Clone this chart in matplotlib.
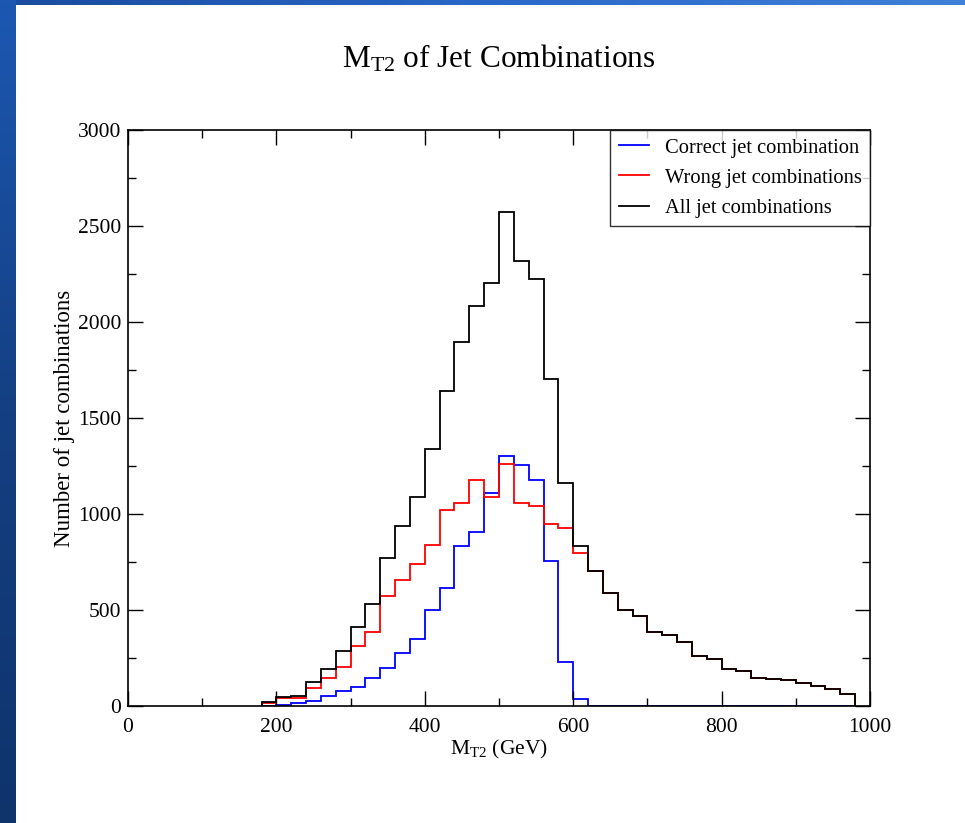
import numpy as np
import matplotlib
matplotlib.use("Agg")
import matplotlib.pyplot as plt

plt.rcParams['font.family'] = ['Liberation Serif', 'DejaVu Serif']
plt.rcParams['mathtext.default'] = 'regular'

# bin edges 180..980 GeV, 20 GeV bins
edges = np.arange(180, 1000, 20)

correct = [0, 7, 14, 24, 50, 80, 97, 144, 196, 278,
           351, 498, 616, 835, 905, 1108, 1304, 1255, 1177, 755,
           231, 35, 0, 0, 0, 0, 0, 0, 0, 0,
           0, 0, 0, 0, 0, 0, 0, 0, 0, 0]
wrong = [14, 43, 41, 96, 146, 204, 310, 385, 573, 658,
         737, 840, 1020, 1059, 1177, 1090, 1260, 1056, 1043, 946,
         926, 799, 705, 590, 498, 469, 384, 370, 335, 259,
         245, 194, 182, 147, 140, 138, 118, 106, 90, 63]
alljets = [22, 49, 54, 123, 194, 288, 413, 531, 769, 939,
           1087, 1339, 1641, 1894, 2083, 2203, 2575, 2316, 2224, 1705,
           1163, 833, 705, 590, 498, 469, 384, 370, 335, 259,
           245, 194, 182, 147, 140, 138, 118, 106, 90, 63]

labels = ['Correct jet combination', 'Wrong jet combinations', 'All jet combinations']

fig = plt.figure(figsize=(9.65, 8.23), dpi=100)

# slide background strips (top and left)
top = fig.add_axes([0, 1 - 5 / 823, 1, 5 / 823])
top.imshow(np.linspace(0, 1, 256)[None, :], aspect='auto',
           cmap=matplotlib.colors.LinearSegmentedColormap.from_list('t', ['#1a4c9e', '#2a66c8', '#4080d8']))
top.axis('off')
left = fig.add_axes([0, 0, 16 / 965, 1])
left.imshow(np.linspace(0, 1, 256)[:, None], aspect='auto',
            cmap=matplotlib.colors.LinearSegmentedColormap.from_list('l', ['#1c58b2', '#143f82', '#0f346c']))
left.axis('off')

ax = fig.add_axes([128 / 965, 1 - 706 / 823, 742 / 965, 576 / 823])
ax.stairs(correct, edges, color='#0000ff', lw=1.3, label=labels[0])
ax.stairs(wrong, edges, color='#ff0000', lw=1.3, label=labels[1])
ax.stairs(alljets, edges, color='black', lw=1.3, label=labels[2])

ax.set_xlim(0, 1000)
ax.set_ylim(0, 3000)
ax.set_xticks(range(0, 1001, 200))
ax.set_xticks(range(100, 1000, 200), minor=True)
ax.set_yticks(range(0, 3001, 500))
ax.set_yticks(range(250, 3000, 500), minor=True)
ax.tick_params(which='both', direction='in', top=True, right=True, labelsize=15.5, width=1)
ax.tick_params(axis='x', which='major', length=11, pad=9)
ax.tick_params(axis='x', which='minor', length=6)
ax.tick_params(axis='y', which='major', length=11, pad=5)
ax.tick_params(axis='y', which='minor', length=6)
for s in ax.spines.values():
    s.set_linewidth(1.2)

ax.set_xlabel('M$_{T2}$ (GeV)', fontsize=15.5, labelpad=0)
ax.set_ylabel('Number of jet combinations', fontsize=16.5, labelpad=2)
ax.set_title('M$_{T2}$ of Jet Combinations', fontsize=22.5, pad=45)

leg = ax.legend(loc='upper right', fontsize=14.8, borderaxespad=0, frameon=True,
                fancybox=False, handlelength=1.5, handletextpad=0.75, labelspacing=0.52,
                borderpad=0.4)
leg.get_frame().set_edgecolor('black')
leg.get_frame().set_linewidth(1.0)

fig.savefig('out.png', dpi=100)
